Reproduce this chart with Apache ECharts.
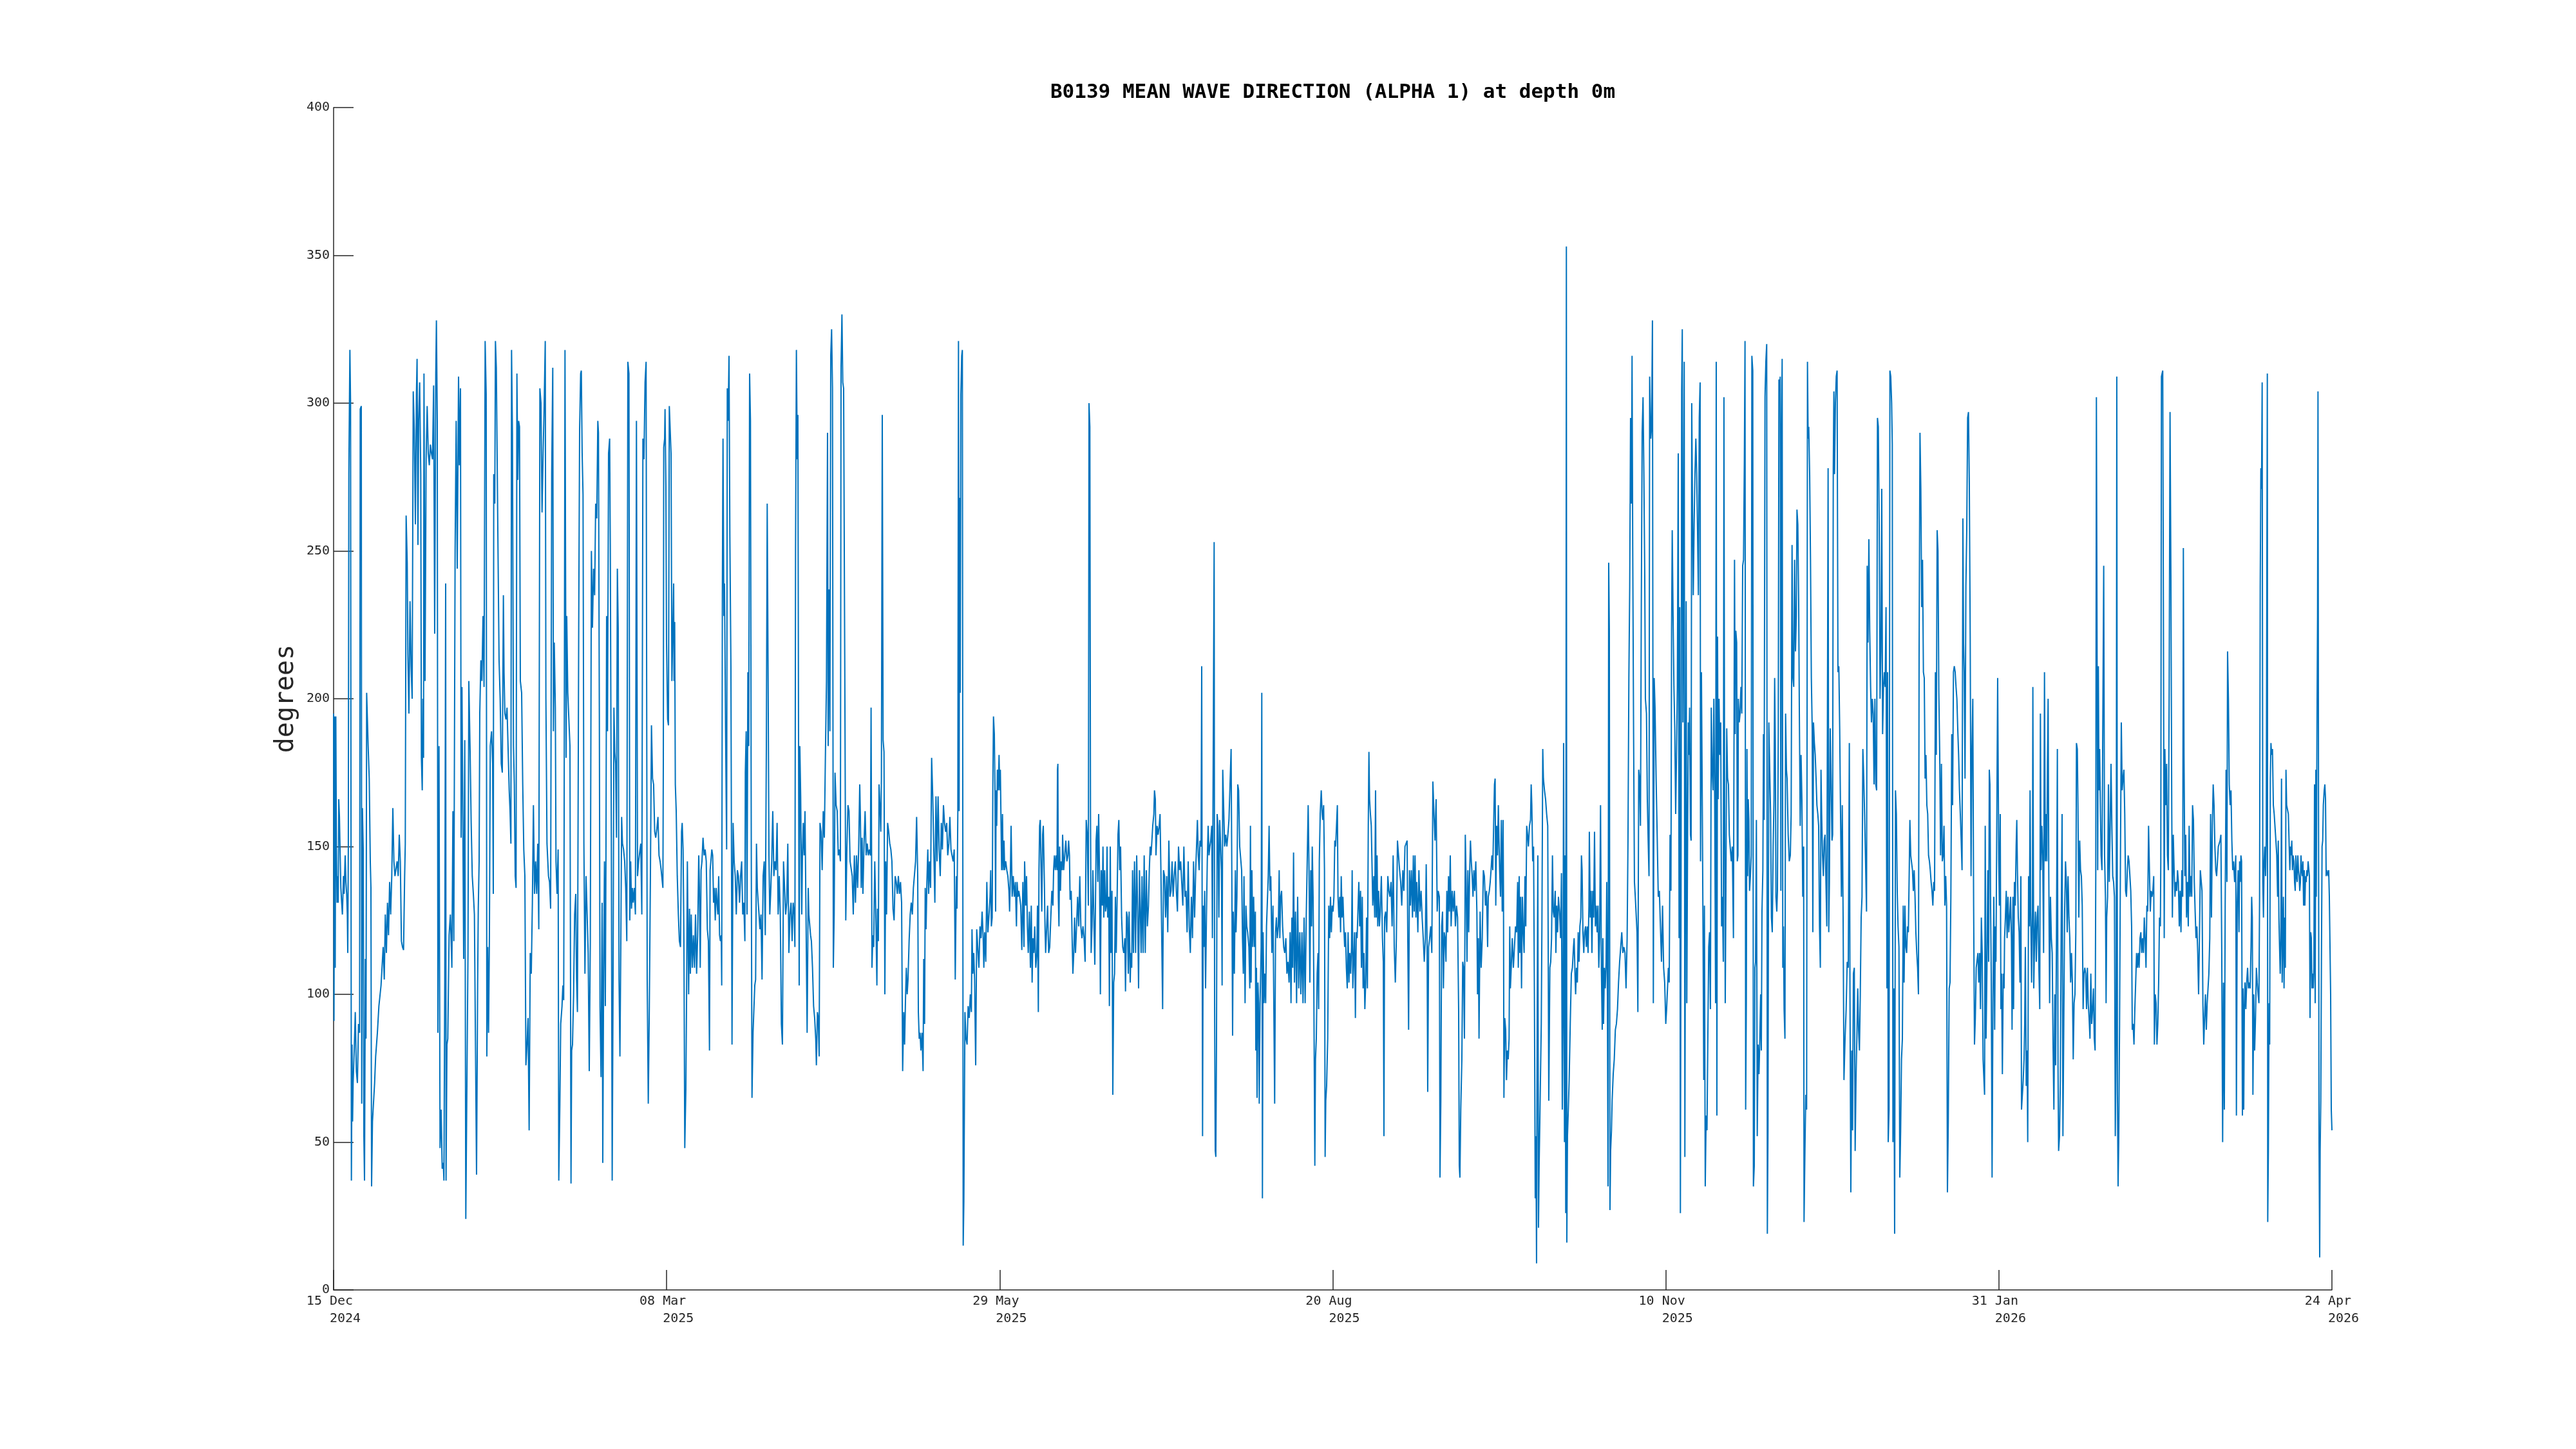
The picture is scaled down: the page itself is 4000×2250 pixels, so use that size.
<!DOCTYPE html>
<html>
<head>
<meta charset="utf-8">
<script src="https://cdn.jsdelivr.net/npm/echarts@6/dist/echarts.min.js"></script>
<style>html,body{margin:0;padding:0;background:#fff}#c{width:4000px;height:2250px}</style>
</head>
<body>
<div id="c"></div>
<script>
// x = days since 15 Dec 2024 00:00, y = mean wave direction (degrees)
const titleText = "B0139 MEAN WAVE DIRECTION (ALPHA 1) at depth 0m";
const yName = "degrees";
const tickLabels = ["15 Dec \n   2024","08 Mar \n   2025","29 May \n   2025","20 Aug \n   2025","10 Nov \n   2025","31 Jan \n   2026","24 Apr \n   2026"];

const seg1 = [[0,195],[0.1,91],[0.25,194],[0.4,109],[0.55,194],[0.7,149],[0.85,131],[1.0,140],[1.15,131],[1.28,166],[1.45,160],[1.6,149],[1.8,136],[2.0,131],[2.18,127],[2.45,140],[2.6,134],[2.87,147],[3.05,138],[3.24,134],[3.4,127],[3.51,114],[3.65,150],[3.78,276],[4.04,318],[4.2,300],[4.41,37],[4.57,83],[4.7,57],[4.84,70],[5.11,81],[5.37,94],[5.64,74],[5.9,70],[6.17,90],[6.44,87],[6.6,298],[6.86,299],[6.97,63],[7.13,163],[7.34,149],[7.5,52],[7.66,37],[7.87,112],[8.03,85],[8.19,202],[8.56,184],[8.83,173],[9.09,145],[9.25,136],[9.41,35],[9.63,57],[9.9,57],[10.16,70],[10.42,79],[10.85,87],[11.22,96],[11.75,103],[12.28,116],[12.55,105],[12.81,127],[13.08,114],[13.35,131],[13.61,120],[13.88,138],[14.14,127],[14.41,140],[14.68,163],[14.94,145],[15.2,140],[15.47,140],[15.74,145],[16.0,140],[16.27,154],[16.53,145],[16.8,118],[17.07,116],[17.33,115],[17.6,140],[17.76,151],[17.97,262],[18.24,246],[18.4,215],[18.66,195],[18.93,233],[19.2,211],[19.46,200],[19.73,304],[19.99,291],[20.26,259],[20.52,303],[20.68,315],[20.9,252],[21.06,294],[21.32,307],[21.59,276],[21.75,180],[21.96,169],[22.12,200],[22.28,180],[22.39,310],[22.65,206],[22.92,281],[23.18,299],[23.45,283],[23.71,279],[23.98,286],[24.25,283],[24.51,281],[24.78,306],[25.04,222],[25.31,310],[25.47,328],[25.68,294],[25.84,87],[26.11,184],[26.37,48],[26.64,61],[26.9,41],[27.17,43],[27.33,37],[27.54,105],[27.76,239],[27.86,37],[28.08,83],[28.29,85],[28.61,120],[28.93,127],[29.3,109],[29.56,162],[29.78,118],[30.1,250],[30.36,294],[30.63,244],[30.95,309],[31.16,279],[31.43,305],[31.59,153],[31.8,204],[32.01,160],[32.22,112],[32.49,186],[32.75,24],[33.29,114],[33.5,206],[33.82,182],[34.08,158],[34.35,140],[34.62,134],[34.88,127],[35.15,127],[35.41,39],[35.68,103],[35.84,129],[36.05,145],[36.21,195],[36.48,213],[36.74,206],[37.01,228],[37.27,204],[37.54,321],[37.8,303],[37.96,79],[38.18,116],[38.39,87],[38.6,120],[38.81,184],[39.13,189],[39.4,178],[39.56,134],[39.67,276],[39.93,266],[40.09,321],[40.31,312],[40.52,281],[40.73,250],[40.99,213],[41.26,200],[41.53,178],[41.79,175],[42.06,235],[42.22,209],[42.43,195],[42.7,193],[42.96,197],[43.18,197],[43.5,169],[43.71,162],[43.92,151],[44.08,318],[44.3,290],[44.56,184],[44.77,171],[44.99,140],[45.2,136],[45.41,310],[45.63,274],[45.84,294],[46.05,292],[46.26,206],[46.58,202],[46.85,171],[47.11,149],[47.38,140],[47.64,76],[47.91,83],[48.17,92],[48.44,54],[48.71,114],[48.97,107],[49.24,131],[49.5,164],[49.77,134],[50.04,145],[50.3,134],[50.57,151],[50.83,122],[51.1,305],[51.37,300],[51.63,263],[51.9,283],[52.16,299],[52.43,321],[52.59,200],[52.86,151],[53.23,140],[53.49,138],[53.76,129],[54.03,276],[54.29,312],[54.45,189],[54.66,219],[54.93,197],[55.09,145],[55.35,134],[55.62,149],[55.78,37],[56.05,63],[56.26,90],[56.58,96],[56.79,103],[57.0,98],[57.11,160],[57.32,318],[57.59,180],[57.75,228],[58.01,202],[58.28,193],[58.55,184],[58.81,36],[58.97,81],[59.18,83],[59.45,100],[59.71,127],[59.98,134],[60.19,105],[60.4,94],[60.72,224],[60.94,291],[61.2,310],[61.36,311],[61.57,283],[61.79,269],[62.0,151],[62.26,107],[62.53,140],[62.8,127],[63.06,114],[63.33,74],[63.59,118],[63.86,250],[64.12,224],[64.39,244],[64.66,235],[64.92,266],[65.19,261],[65.45,294],[65.61,290],[65.83,195],[65.99,96],[66.25,72],[66.52,131],[66.68,43],[66.89,107],[67.1,145],[67.31,96],[67.47,147],[67.63,228],[67.85,189],[68.11,283],[68.38,288],[68.54,252],[68.8,153],[69.01,37],[69.23,105],[69.44,197],[69.65,182],[69.86,178],[70.08,153],[70.29,244],[70.5,224],[70.71,105],[70.93,79],[71.14,116],[71.35,160],[71.56,151],[71.83,149],[72.1,145],[72.36,136],[72.63,118],[72.89,314],[73.16,310],[73.37,125],[73.59,145],[73.8,129],[74.01,136],[74.22,131],[74.49,136],[74.76,127],[75.02,294],[75.29,140],[75.55,145],[75.82,145],[76.09,151],[76.35,127],[76.62,288],[76.88,281],[77.15,307],[77.41,314],[77.68,105],[77.95,63],[78.21,96],[78.48,140],[78.74,191],[79.01,173],[79.27,171],[79.54,155],[79.8,153]];

const seg2 = [[80.08,156],[80.35,160],[80.61,147],[80.88,145],[81.14,142],[81.57,136],[81.68,180],[81.78,285],[82.0,288],[82.1,298],[82.31,272],[82.47,219],[82.74,193],[82.95,191],[83.16,299],[83.38,299],[83.59,283],[83.8,206],[84.01,206],[84.23,239],[84.33,206],[84.49,226],[84.65,171],[84.87,162],[85.13,140],[85.4,127],[85.66,118],[85.93,116],[86.19,155],[86.35,158],[86.57,149],[86.78,118],[86.99,48],[87.26,68],[87.42,96],[87.63,145],[87.79,145],[87.95,100],[88.16,129],[88.38,107],[88.59,127],[88.85,109],[89.12,120],[89.39,109],[89.65,127],[89.92,107],[90.18,120],[90.45,147],[90.61,136],[90.82,109],[91.03,142],[91.25,145],[91.51,153],[91.78,147],[92.04,149],[92.31,145],[92.58,122],[92.84,118],[93.11,81],[93.27,142],[93.48,142],[93.69,149],[93.9,147],[94.12,131],[94.33,136],[94.54,125],[94.76,136],[94.97,131],[95.18,127],[95.39,140],[95.61,120],[95.82,118],[96.03,120],[96.14,103],[96.3,235],[96.46,288],[96.67,228],[96.83,239],[97.1,189],[97.36,149],[97.52,305],[97.73,294],[97.95,316],[98.16,255],[98.42,211],[98.58,140],[98.69,83],[98.96,158],[99.22,145],[99.49,140],[99.75,127],[100.02,142],[100.28,140],[100.55,131],[100.82,140],[101.08,145],[101.35,127],[101.61,131],[101.88,118],[101.99,175],[102.2,189],[102.41,127],[102.62,209],[102.84,184],[103.05,310],[103.26,294],[103.48,140],[103.64,65],[103.9,87],[104.11,87],[104.33,103],[104.54,105],[104.75,151],[104.96,136],[105.18,131],[105.39,127],[105.6,122],[105.87,127],[106.13,105],[106.4,140],[106.67,145],[106.93,120],[107.2,184],[107.41,266],[107.62,211],[107.84,147],[108.05,127],[108.26,134],[108.53,145],[108.79,162],[109.06,140],[109.32,145],[109.59,142],[109.86,158],[110.12,127],[110.39,140],[110.65,127],[110.92,90],[111.18,83],[111.45,145],[111.72,145],[111.98,127],[112.25,131],[112.51,151],[112.78,114],[113.04,127],[113.31,131],[113.58,118],[113.84,131],[114.11,127],[114.27,116],[114.43,250],[114.64,318],[114.85,281],[115.01,296],[115.17,189],[115.33,103],[115.49,184],[115.7,167],[115.97,127],[116.13,147],[116.34,158],[116.55,147],[116.77,162],[117.03,162],[117.3,87],[117.57,136],[117.73,127],[117.94,127],[118.15,120],[118.36,118],[118.63,109],[118.9,96],[119.16,92],[119.43,85],[119.59,76],[119.85,94],[120.07,92],[120.28,79],[120.49,158],[120.76,155],[121.02,142],[121.29,162],[121.56,153],[121.82,180],[122.09,206],[122.35,290],[122.51,184],[122.73,237],[122.94,189],[123.15,316],[123.36,325],[123.58,305],[123.79,109],[124.0,127],[124.21,175],[124.48,164],[124.75,162],[125.01,147],[125.28,149],[125.54,145],[125.7,312],[125.92,330],[126.13,307],[126.34,305],[126.61,215],[126.87,125],[127.14,149],[127.41,164],[127.67,162],[127.94,145],[128.2,145],[128.47,140],[128.73,127],[129.0,147],[129.27,131],[129.53,147],[129.8,136],[130.06,149],[130.33,171],[130.49,160],[130.7,136],[130.91,153],[131.12,134],[131.39,151],[131.66,162],[131.92,147],[132.19,151],[132.45,147],[132.72,149],[132.98,147],[133.14,197],[133.36,109],[133.57,120],[133.78,116],[134.05,145],[134.31,127],[134.58,103],[134.74,129],[134.95,118],[135.11,171],[135.38,162],[135.54,155],[135.7,173],[135.91,296],[136.12,186],[136.34,182],[136.55,100],[136.76,145],[136.97,127],[137.24,158],[137.51,155],[137.77,151],[138.04,149],[138.3,145],[138.57,129],[138.84,125],[139.1,140],[139.37,138],[139.64,134],[139.9,140],[140.17,134],[140.43,138],[140.7,131],[140.96,74],[141.23,94],[141.44,83],[141.66,98],[141.87,109],[142.08,100],[142.29,105],[142.56,118],[142.83,127],[143.09,131],[143.36,127],[143.62,136],[143.89,136],[144.16,145],[144.42,160],[144.69,140],[144.85,94],[145.06,85],[145.27,87],[145.48,81],[145.75,87],[146.02,74],[146.18,112],[146.39,90],[146.55,136],[146.76,122],[146.97,138],[147.19,149],[147.4,134],[147.61,145],[147.88,136],[148.14,180],[148.41,167],[148.68,167],[148.94,131],[149.21,167],[149.47,145],[149.74,167],[150.0,149],[150.27,140],[150.54,158],[150.8,149],[151.07,164],[151.33,158],[151.6,155],[151.87,158],[152.13,147],[152.4,151],[152.66,160],[152.93,149],[153.19,147],[153.46,145],[153.73,149],[153.99,105],[154.26,140],[154.42,129],[154.63,162],[154.79,321],[154.95,162],[155.06,268],[155.22,202],[155.38,303],[155.59,316],[155.75,318],[155.96,15],[156.12,30],[156.39,94],[156.65,85],[156.92,83],[157.18,96],[157.45,92],[157.72,100],[157.98,94],[158.14,122],[158.35,107],[158.57,114],[158.78,105],[159.05,76],[159.31,122],[159.58,122]];

const seg3 = [[159.85,109],[160.11,123],[160.38,119],[160.64,128],[160.91,119],[161.07,109],[161.28,121],[161.55,111],[161.81,138],[162.08,121],[162.4,128],[162.61,133],[162.77,142],[162.93,123],[163.14,126],[163.3,169],[163.46,194],[163.67,188],[163.83,169],[163.99,128],[164.1,169],[164.26,157],[164.42,176],[164.63,169],[164.84,181],[165.0,169],[165.16,176],[165.32,159],[165.48,142],[165.69,161],[165.85,142],[166.07,152],[166.23,142],[166.49,145],[166.76,142],[167.02,140],[167.29,135],[167.45,128],[167.66,142],[167.82,157],[168.09,133],[168.35,140],[168.62,133],[168.88,138],[169.15,123],[169.31,138],[169.52,133],[169.73,135],[169.95,133],[170.21,130],[170.48,115],[170.74,138],[171.01,116],[171.17,145],[171.44,130],[171.65,140],[171.86,123],[172.07,114],[172.34,128],[172.61,109],[172.82,130],[173.03,104],[173.24,119],[173.46,114],[173.67,123],[173.94,109],[174.2,114],[174.36,130],[174.57,94],[174.73,142],[174.89,157],[175.05,159],[175.26,142],[175.42,128],[175.64,154],[175.8,157],[176.06,138],[176.22,123],[176.38,114],[176.59,121],[176.86,130],[177.13,114],[177.39,116],[177.66,126],[177.92,135],[178.19,130],[178.35,142],[178.56,147],[178.77,142],[178.99,147],[179.2,142],[179.31,176],[179.41,178],[179.52,133],[179.68,123],[179.84,150],[180.05,135],[180.21,145],[180.48,142],[180.58,154],[180.85,142],[181.11,147],[181.38,152],[181.64,145],[181.91,147],[182.07,152],[182.28,147],[182.44,132],[182.71,135],[182.97,117],[183.13,107],[183.35,114],[183.56,126],[183.77,114],[184.04,123],[184.3,133],[184.57,123],[184.84,140],[185.1,123],[185.37,119],[185.63,123],[185.9,119],[186.16,111],[186.43,159],[186.7,154],[186.96,130],[187.12,300],[187.33,292],[187.49,161],[187.65,114],[187.87,123],[188.08,142],[188.29,142],[188.56,110],[188.72,130],[188.88,152],[189.09,157],[189.3,138],[189.51,161],[189.73,140],[189.94,100],[190.15,142],[190.42,130],[190.58,150],[190.79,126],[191.0,142],[191.22,128],[191.43,130],[191.59,150],[191.75,126],[192.01,133],[192.17,96],[192.39,150],[192.55,114],[192.81,135],[193.02,66],[193.24,104],[193.45,107],[193.66,133],[193.87,114],[194.09,133],[194.3,154],[194.51,159],[194.73,142],[194.94,150],[195.2,126],[195.47,116],[195.73,114],[196.0,119],[196.16,101],[196.43,128],[196.64,126],[196.85,107],[197.06,128],[197.33,104],[197.49,114],[197.7,109],[197.91,142],[198.13,114],[198.39,145],[198.66,114],[198.93,147],[199.19,126],[199.4,102],[199.62,142],[199.83,128],[200.04,114],[200.25,140],[200.52,114],[200.79,147],[201.05,114],[201.32,142],[201.58,123],[201.85,130],[202.06,142],[202.27,150],[202.49,147],[202.7,152],[202.91,157],[203.18,161],[203.34,169],[203.55,166],[203.71,147],[203.98,157],[204.24,154],[204.51,157],[204.72,161],[204.93,142],[205.15,142],[205.36,95],[205.57,142],[205.84,140],[206.1,126],[206.37,140],[206.63,121],[206.9,152],[207.17,133],[207.43,135],[207.7,145],[207.96,133],[208.23,140],[208.5,145],[208.76,135],[209.03,128],[209.29,150],[209.56,142],[209.83,145],[210.09,138],[210.36,130],[210.62,150],[210.89,133],[211.16,135],[211.42,121],[211.69,145],[211.95,123],[212.22,114],[212.48,133],[212.75,119],[213.02,145],[213.28,126],[213.55,142],[213.81,152],[213.97,159],[214.19,147],[214.4,142],[214.61,152],[214.88,150],[215.04,211],[215.25,52],[215.41,130],[215.57,116],[215.78,135],[215.99,102],[216.21,126],[216.42,145],[216.63,157],[216.84,147],[217.06,150],[217.27,152],[217.53,157],[217.69,119],[217.91,119],[218.12,253],[218.23,97],[218.39,47],[218.54,45],[218.7,83],[218.86,161],[219.08,157],[219.29,126],[219.5,159],[219.71,159],[219.93,142],[220.09,103],[220.25,176],[220.46,164],[220.72,150],[220.99,154],[221.26,150],[221.52,154],[221.79,159],[222.05,159]];

const seg4 = [[222.32,183],[222.48,145],[222.69,86],[222.85,128],[223.12,107],[223.38,142],[223.54,121],[223.76,133],[223.97,171],[224.18,169],[224.45,150],[224.71,150],[224.93,142],[225.14,119],[225.35,107],[225.51,140],[225.78,97],[225.99,130],[226.2,123],[226.42,121],[226.73,116],[226.95,102],[227.11,157],[227.27,104],[227.48,142],[227.69,116],[227.9,133],[228.12,116],[228.33,128],[228.44,81],[228.6,109],[228.75,65],[228.97,104],[229.13,97],[229.29,63],[229.5,97],[229.76,116],[229.92,202],[230.08,31],[230.24,121],[230.46,97],[230.67,107],[230.88,97],[231.09,123],[231.31,123],[231.52,140],[231.73,157],[231.94,135],[232.16,140],[232.42,114],[232.69,130],[232.9,130],[233.11,63],[233.33,121],[233.54,126],[233.75,119],[234.02,123],[234.23,142],[234.39,119],[234.6,133],[234.82,135],[235.08,123],[235.35,116],[235.61,114],[235.88,119],[236.15,107],[236.41,111],[236.68,104],[236.94,121],[237.16,97],[237.37,126],[237.58,109],[237.79,148],[238.01,104],[238.27,128],[238.54,97],[238.8,133],[239.07,102],[239.34,121],[239.6,100],[239.87,121],[240.13,97],[240.4,126],[240.66,97],[240.93,126],[241.2,126],[241.41,164],[241.62,142],[241.83,104],[242.05,142],[242.26,123],[242.42,150],[242.63,133],[242.79,107],[243.06,42],[243.22,78],[243.43,85],[243.64,107],[243.85,114],[244.01,95],[244.17,145],[244.39,161],[244.65,169],[244.87,161],[245.02,159],[245.24,164],[245.45,142],[245.61,45],[245.77,64],[245.98,69],[246.25,85],[246.51,130],[246.73,119],[246.94,133],[247.15,121],[247.36,130],[247.58,128],[247.79,133],[248.0,152],[248.21,150],[248.43,157],[248.64,164],[248.8,133],[249.01,126],[249.23,133],[249.44,121],[249.6,140],[249.81,126],[250.02,133],[250.24,123],[250.45,116],[250.66,121],[250.87,109],[251.09,102],[251.3,121],[251.51,104],[251.72,114],[251.94,107],[252.15,116],[252.31,142],[252.47,102],[252.68,111],[252.89,121],[253.11,92],[253.32,121],[253.53,119],[253.74,119],[253.96,138],[254.17,123],[254.38,135],[254.6,109],[254.81,133],[255.02,102],[255.23,114],[255.45,95],[255.66,104],[255.87,126],[256.08,102],[256.3,157],[256.46,182],[256.62,166],[256.83,161],[257.04,157],[257.25,142],[257.41,130],[257.68,140],[257.89,126],[258.1,169],[258.26,126],[258.48,147],[258.64,123],[258.85,135],[259.06,123],[259.27,128],[259.54,140],[259.81,119],[260.02,111],[260.18,52],[260.34,126],[260.6,128],[260.87,121],[261.14,140],[261.4,135],[261.67,133],[261.93,138],[262.2,123],[262.46,147],[262.73,116],[263.0,104],[263.26,119],[263.53,152],[263.79,147],[264.06,142],[264.33,138],[264.59,130],[264.86,142],[265.12,135],[265.39,150],[265.65,150],[265.92,152],[266.08,119],[266.29,88],[266.51,142],[266.72,130],[266.98,142],[267.25,126],[267.46,147],[267.67,128],[267.89,147],[268.1,126],[268.31,138],[268.58,121],[268.84,142],[269.11,128],[269.38,135],[269.64,126],[269.91,119],[270.17,111],[270.44,119],[270.65,144],[270.87,116],[271.02,67],[271.24,116],[271.5,119],[271.77,123],[272.04,114],[272.3,172],[272.57,161],[272.83,152],[273.1,166],[273.37,128],[273.63,135],[273.9,133],[274.06,38],[274.27,64],[274.48,123],[274.69,128],[274.91,102],[275.12,121],[275.33,119],[275.54,111],[275.76,135],[275.97,121],[276.18,140],[276.4,128],[276.61,147],[276.82,123],[277.09,135],[277.35,128],[277.62,135],[277.88,123],[278.15,130],[278.42,126],[278.68,95],[278.84,42],[279.0,38],[279.21,61],[279.48,78],[279.69,111],[279.9,109],[280.12,85],[280.33,154],[280.54,138],[280.75,111],[280.97,142],[281.18,121],[281.39,140],[281.61,152],[281.82,145],[282.03,140],[282.24,133],[282.46,142],[282.67,135],[282.93,145],[283.2,128],[283.36,100],[283.57,119],[283.73,85],[284.0,128],[284.26,109]];

const seg5 = [[284.53,119],[284.8,142],[285.06,140],[285.33,130],[285.59,135],[285.86,116],[286.02,133],[286.29,135],[286.5,138],[286.71,142],[286.92,147],[287.14,142],[287.35,157],[287.56,171],[287.72,173],[287.88,130],[288.09,157],[288.31,147],[288.52,164],[288.68,152],[288.84,142],[289.05,133],[289.26,159],[289.48,128],[289.69,159],[289.79,135],[289.9,65],[290.11,92],[290.33,88],[290.54,71],[290.75,81],[290.96,78],[291.18,85],[291.34,123],[291.5,102],[291.71,109],[291.97,119],[292.24,109],[292.51,116],[292.77,123],[293.04,121],[293.3,138],[293.46,109],[293.68,140],[293.84,114],[294.05,133],[294.26,102],[294.47,133],[294.69,121],[294.9,114],[295.11,140],[295.32,123],[295.54,157],[295.75,154],[295.96,150],[296.23,157],[296.49,159],[296.65,171],[296.81,164],[297.03,145],[297.24,150],[297.45,100],[297.66,31],[297.82,52],[297.98,9],[298.14,95],[298.3,147],[298.46,21],[298.62,42],[298.89,66],[299.15,90],[299.31,123],[299.52,183],[299.68,173],[299.95,169],[300.22,166],[300.48,161],[300.75,157],[301.01,64],[301.28,109],[301.49,111],[301.7,119],[301.92,147],[302.13,128],[302.34,126],[302.61,135],[302.77,114],[302.98,130],[303.19,121],[303.41,133],[303.67,128],[303.94,119],[304.15,141],[304.36,61],[304.52,90],[304.68,185],[304.9,50],[305.05,147],[305.21,26],[305.37,353],[305.48,16],[305.64,52],[305.85,61],[306.06,71],[306.33,90],[306.6,107],[306.86,109],[307.13,116],[307.29,119],[307.5,107],[307.66,100],[307.87,109],[308.09,104],[308.3,121],[308.51,111],[308.72,123],[308.94,126],[309.1,147],[309.26,142],[309.47,121],[309.68,114],[309.89,121],[310.11,123],[310.32,116],[310.53,123],[310.74,114],[310.96,130],[311.06,155],[311.28,126],[311.49,135],[311.7,114],[311.91,135],[312.13,126],[312.34,155],[312.55,123],[312.76,130],[312.98,121],[313.19,130],[313.4,109],[313.61,119],[313.83,164],[314.04,109],[314.25,88],[314.41,119],[314.57,90],[314.78,109],[315.0,102],[315.21,111],[315.37,138],[315.53,100],[315.69,35],[315.85,246],[316.01,223],[316.17,27],[316.33,47],[316.54,54],[316.7,64],[316.97,73],[317.23,78],[317.5,88],[317.76,90],[318.03,95],[318.29,104],[318.56,111],[318.83,116],[319.09,121],[319.36,114],[319.62,116],[319.89,114],[320.15,102],[320.42,119],[320.63,152],[320.85,207],[321.06,238],[321.27,295],[321.48,266],[321.64,316],[321.8,252],[322.02,188],[322.23,138],[322.44,133],[322.65,133],[322.87,121],[323.08,94],[323.29,176],[323.5,173],[323.72,157],[323.93,231],[324.14,290],[324.36,302],[324.57,276],[324.78,242],[324.94,200],[325.21,195],[325.42,166],[325.63,152],[325.84,140],[326.0,309],[326.27,288],[326.48,292],[326.69,328],[326.91,97],[327.12,207],[327.33,197],[327.6,173],[327.86,154],[328.13,133],[328.4,135],[328.66,135],[328.93,111],[329.19,130],[329.46,109],[329.72,104],[329.99,90],[330.2,95],[330.42,102],[330.63,109],[330.84,104],[331.05,154],[331.27,135],[331.43,223],[331.59,257],[331.8,228],[332.01,204],[332.22,190],[332.44,161],[332.65,181],[332.86,204],[333.08,283],[333.29,119],[333.45,231],[333.61,26],[333.77,133],[333.93,304],[334.08,325],[334.24,192],[334.4,238],[334.56,314],[334.72,45],[334.88,150],[335.04,233],[335.2,97],[335.41,157],[335.57,192],[335.73,181],[335.89,197],[336.11,154],[336.27,152],[336.42,300],[336.58,269],[336.8,235],[337.01,259],[337.22,276],[337.44,288],[337.65,276],[337.86,257],[338.07,235],[338.29,295],[338.5,307],[338.6,145],[338.82,209],[339.03,166],[339.24,116],[339.4,71],[339.56,130],[339.77,35],[339.99,59],[340.2,54],[340.41,85],[340.63,116],[340.84,121],[341.05,95],[341.26,197],[341.48,176],[341.69,169],[341.9,200],[342.11,166],[342.33,97],[342.49,314],[342.65,59],[342.81,221],[342.96,166],[343.18,200],[343.39,181],[343.6,192],[343.82,123],[344.03,133],[344.24,111],[344.4,302],[344.56,164],[344.72,97],[344.88,133],[345.09,190],[345.3,173],[345.52,171],[345.73,154],[345.94,154],[346.21,145],[346.47,150]];

const seg6 = [[346.75,119],[347.02,247],[347.18,188],[347.34,223],[347.55,219],[347.71,145],[347.87,147],[347.97,200],[348.19,192],[348.4,195],[348.61,204],[348.82,195],[349.04,245],[349.25,247],[349.46,281],[349.62,321],[349.78,61],[349.94,97],[350.1,183],[350.26,140],[350.42,166],[350.58,159],[350.74,135],[350.95,140],[351.16,147],[351.32,316],[351.54,311],[351.7,35],[351.91,42],[352.07,109],[352.23,111],[352.44,159],[352.65,52],[352.87,83],[353.08,73],[353.29,85],[353.5,100],[353.66,81],[353.82,128],[354.04,142],[354.19,188],[354.35,159],[354.57,302],[354.78,314],[354.99,320],[355.15,19],[355.31,54],[355.52,192],[355.74,176],[355.95,161],[356.16,126],[356.37,121],[356.59,150],[356.8,166],[356.96,207],[357.12,185],[357.28,133],[357.49,128],[357.65,135],[357.86,190],[358.02,308],[358.18,304],[358.34,309],[358.5,135],[358.66,290],[358.82,315],[358.98,109],[359.14,123],[359.3,95],[359.51,85],[359.67,195],[359.88,176],[360.04,173],[360.31,154],[360.58,145],[360.84,147],[361.05,161],[361.27,252],[361.48,207],[361.69,204],[361.9,247],[362.12,216],[362.33,228],[362.49,264],[362.7,259],[362.91,233],[363.07,197],[363.29,157],[363.5,181],[363.71,166],[363.92,133],[364.14,150],[364.24,23],[364.46,47],[364.67,66],[364.88,61],[365.09,314],[365.25,288],[365.41,292],[365.63,276],[365.84,247],[366.05,207],[366.26,190],[366.42,121],[366.58,192],[366.8,185],[367.01,181],[367.22,173],[367.43,164],[367.65,161],[367.86,157],[368.07,123],[368.28,109],[368.44,176],[368.6,161],[368.82,147],[369.03,140],[369.24,152],[369.45,154],[369.67,138],[369.88,123],[370.04,197],[370.2,278],[370.36,121],[370.52,138],[370.73,190],[370.94,173],[371.16,152],[371.32,154],[371.48,278],[371.63,304],[371.79,276],[372.01,300],[372.22,309],[372.43,311],[372.64,209],[372.86,211],[373.07,190],[373.28,161],[373.5,133],[373.71,164],[373.92,126],[374.13,71],[374.4,85],[374.67,95],[374.93,111],[375.2,109],[375.46,185],[375.62,100],[375.83,33],[376.05,81],[376.26,54],[376.47,107],[376.69,109],[376.9,47],[377.11,71],[377.32,85],[377.54,102],[377.75,88],[377.96,81],[378.17,100],[378.39,126],[378.6,133],[378.81,183],[379.03,173],[379.24,161],[379.45,147],[379.72,128],[379.88,245],[380.09,219],[380.3,254],[380.51,223],[380.73,204],[380.94,192],[381.15,200],[381.37,195],[381.58,171],[381.79,200],[382.0,171],[382.22,169],[382.43,295],[382.64,292],[382.85,259],[383.07,200],[383.28,216],[383.49,271],[383.7,188],[383.92,204],[384.13,209],[384.34,204],[384.55,231],[384.77,102],[384.93,209],[385.09,50],[385.3,61],[385.51,311],[385.72,309],[385.94,300],[386.1,286],[386.26,50],[386.47,102],[386.68,19],[386.89,169],[387.11,161],[387.32,135],[387.53,123],[387.75,116],[387.96,38],[388.17,54],[388.38,78],[388.6,85],[388.81,130],[389.02,104],[389.23,130],[389.45,116],[389.66,114],[389.87,123],[390.08,121],[390.3,142],[390.46,159],[390.67,147],[390.88,147],[391.1,142],[391.31,135],[391.52,142],[391.73,133],[391.94,121],[392.16,114],[392.37,109],[392.58,100],[392.74,214],[392.96,290],[393.17,271],[393.38,231],[393.59,247],[393.81,209],[394.02,207],[394.23,173],[394.44,181],[394.66,164],[394.87,161],[395.08,147],[395.3,145],[395.51,142],[395.72,138],[395.93,135],[396.15,130],[396.36,138],[396.57,135],[396.78,209],[397.0,181],[397.21,257],[397.42,250],[397.63,202],[397.85,181],[398.06,147],[398.27,178],[398.49,145],[398.7,147],[398.91,157],[399.12,130],[399.34,140],[399.55,130],[399.76,33],[399.97,57],[400.19,102],[400.4,104],[400.61,133],[400.83,188],[401.04,164],[401.25,209],[401.46,211],[401.68,209],[401.89,204],[402.1,200],[402.31,190],[402.53,181],[402.74,169],[402.95,161],[403.17,152],[403.38,142],[403.59,261],[403.75,219],[403.91,209],[404.12,173],[404.33,238],[404.55,257],[404.76,295],[404.97,297],[405.18,273],[405.4,221],[405.61,140],[405.82,183],[406.04,200],[406.25,130],[406.46,83],[406.67,92],[406.89,109],[407.1,109],[407.31,114],[407.52,104],[407.74,114],[407.95,95],[408.16,126],[408.37,114],[408.59,78]];

const seg7 = [[408.96,66],[409.12,157],[409.33,85],[409.55,109],[409.76,142],[409.97,111],[410.13,176],[410.29,171],[410.45,130],[410.61,107],[410.82,38],[411.03,97],[411.25,133],[411.46,88],[411.62,123],[411.78,111],[411.99,159],[412.2,207],[412.31,181],[412.47,145],[412.63,130],[412.84,161],[413.0,95],[413.16,107],[413.37,73],[413.59,107],[413.8,102],[413.91,119],[414.12,126],[414.33,135],[414.54,119],[414.76,133],[414.97,121],[415.18,126],[415.39,133],[415.61,119],[415.77,88],[415.98,133],[416.14,95],[416.35,138],[416.56,130],[416.78,150],[416.94,159],[417.1,142],[417.31,126],[417.52,121],[417.73,104],[417.95,140],[418.11,61],[418.32,61],[418.53,71],[418.74,78],[418.9,90],[419.06,116],[419.28,69],[419.49,81],[419.65,50],[419.86,140],[420.07,123],[420.23,169],[420.39,128],[420.61,104],[420.82,128],[420.92,204],[421.14,102],[421.35,119],[421.56,128],[421.77,111],[421.99,126],[422.2,130],[422.41,109],[422.63,95],[422.79,195],[422.94,142],[423.16,157],[423.37,147],[423.58,114],[423.8,209],[424.01,145],[424.22,161],[424.38,145],[424.54,178],[424.7,200],[424.86,142],[425.07,97],[425.28,133],[425.5,119],[425.71,114],[425.92,83],[426.13,61],[426.35,100],[426.56,76],[426.77,119],[426.99,183],[427.15,76],[427.3,47],[427.52,52],[427.73,71],[427.94,123],[428.16,161],[428.37,52],[428.58,90],[428.79,128],[429.01,145],[429.22,138],[429.43,121],[429.64,140],[429.86,126],[430.07,119],[430.28,104],[430.49,114],[430.71,104],[430.92,78],[431.13,97],[431.35,100],[431.56,121],[431.72,185],[431.93,183],[432.09,164],[432.3,126],[432.52,152],[432.73,142],[432.94,140],[433.15,130],[433.37,95],[433.58,107],[433.79,109],[434.0,107],[434.22,95],[434.43,109],[434.64,97],[434.85,92],[435.07,85],[435.28,107],[435.49,90],[435.71,95],[435.92,102],[436.13,85],[436.34,81],[436.5,140],[436.66,302],[436.82,302],[436.98,142],[437.14,211],[437.3,169],[437.46,183],[437.67,161],[437.83,147],[438.04,142],[438.26,142],[438.47,245],[438.68,147],[438.9,133],[439.06,97],[439.21,126],[439.43,133],[439.64,171],[439.85,138],[440.07,157],[440.28,178],[440.49,157],[440.7,140],[440.92,138],[441.13,133],[441.34,52],[441.55,85],[441.71,309],[441.87,66],[442.03,35],[442.19,50],[442.4,90],[442.62,147],[442.83,192],[443.04,169],[443.26,173],[443.47,176],[443.68,161],[443.89,135],[444.11,133],[444.32,142],[444.53,147],[444.74,145],[444.96,140],[445.17,135],[445.38,123],[445.54,88],[445.75,90],[445.97,83],[446.18,95],[446.39,104],[446.61,114],[446.82,109],[447.03,114],[447.24,109],[447.46,119],[447.67,121],[447.88,114],[448.09,119],[448.31,114],[448.52,126],[448.73,119],[448.95,109],[449.16,130],[449.37,128],[449.58,157],[449.8,142],[450.01,128],[450.22,135],[450.43,133],[450.65,135],[450.86,140],[451.02,83],[451.23,100],[451.44,97],[451.66,83],[451.87,90],[452.08,104],[452.29,126],[452.51,123],[452.61,145],[452.77,309],[452.93,309],[453.09,311],[453.25,233],[453.46,119],[453.62,183],[453.84,164],[454.05,178],[454.26,147],[454.47,142],[454.69,204],[454.9,297],[455.11,242],[455.33,161],[455.48,126],[455.7,154],[455.91,142],[456.12,133],[456.34,138],[456.55,135],[456.76,142],[456.97,138],[457.19,123],[457.4,135],[457.61,121],[457.82,142],[458.04,133],[458.2,251],[458.36,181],[458.57,140],[458.78,154],[458.99,126],[459.21,138],[459.42,123],[459.63,157],[459.84,133],[460.06,140],[460.27,133],[460.48,164],[460.7,159],[460.91,138],[461.12,128],[461.33,119],[461.55,123],[461.76,114],[461.97,100],[462.18,119],[462.4,142],[462.61,142],[462.82,135],[463.04,97],[463.25,83],[463.46,92],[463.67,100],[463.89,88],[464.1,97],[464.31,97],[464.52,107],[464.74,119],[464.95,161],[465.16,126],[465.38,157],[465.59,171],[465.8,164],[466.01,150],[466.23,142],[466.44,140],[466.65,145],[466.86,150],[467.08,150],[467.29,152],[467.5,154],[467.71,114],[467.93,50],[468.14,104],[468.35,61],[468.56,130],[468.78,176],[468.99,138],[469.15,216],[469.36,200],[469.57,171],[469.79,164],[470.0,169],[470.21,152],[470.43,142],[470.64,145],[470.9,138]];

const seg8 = [[471.18,147],[471.34,59],[471.55,131],[471.77,142],[471.98,121],[472.14,145],[472.3,138],[472.46,147],[472.62,145],[472.83,59],[472.99,102],[473.15,61],[473.31,95],[473.47,104],[473.68,95],[473.89,104],[474.11,109],[474.32,102],[474.53,104],[474.74,102],[474.96,116],[475.12,133],[475.28,126],[475.43,66],[475.65,100],[475.86,81],[476.07,92],[476.29,109],[476.5,104],[476.71,100],[476.92,97],[477.08,133],[477.24,238],[477.4,278],[477.56,271],[477.72,307],[477.88,138],[478.04,126],[478.2,145],[478.36,150],[478.57,140],[478.73,152],[478.89,245],[479.0,310],[479.1,23],[479.26,47],[479.42,97],[479.58,83],[479.74,173],[479.9,185],[480.06,181],[480.27,183],[480.49,164],[480.7,161],[480.91,161],[481.12,152],[481.34,147],[481.55,133],[481.71,152],[481.87,126],[482.03,116],[482.19,107],[482.35,119],[482.51,173],[482.67,104],[482.83,119],[482.98,133],[483.14,102],[483.3,126],[483.46,109],[483.62,176],[483.78,164],[484.0,164],[484.21,161],[484.42,150],[484.58,142],[484.74,150],[484.9,147],[485.06,152],[485.22,142],[485.38,147],[485.59,145],[485.75,138],[485.91,135],[486.07,147],[486.23,140],[486.39,138],[486.55,147],[486.71,142],[486.87,140],[487.03,135],[487.19,138],[487.34,147],[487.5,142],[487.66,140],[487.82,145],[487.98,130],[488.14,142],[488.3,130],[488.46,140],[488.62,138],[488.78,142],[488.94,140],[489.1,145],[489.26,145],[489.42,140],[489.58,92],[489.74,121],[489.9,119],[490.06,102],[490.22,107],[490.38,102],[490.54,109],[490.69,171],[490.85,97],[491.01,176],[491.12,133],[491.28,185],[491.44,228],[491.55,304],[491.7,145],[491.81,50],[491.97,11],[492.08,47],[492.24,64],[492.4,111],[492.56,150],[492.72,152],[492.87,164],[493.09,169],[493.25,171],[493.41,166],[493.57,140],[493.73,142],[493.88,142],[494.04,140],[494.2,142],[494.36,133],[494.52,133],[494.68,100],[494.84,61],[495.0,54]];

const series = [].concat(seg1, seg2, seg3, seg4, seg5, seg6, seg7, seg8);

const axisColor = '#262626';
const mono = 'DejaVu Sans Mono';
const GL = 518, GT = 167, GW = 3103, GH = 1836;

const chart = echarts.init(document.getElementById('c'), null, {renderer: 'canvas'});
chart.setOption({
  animation: false,
  backgroundColor: '#ffffff',
  grid: {left: GL, top: GT, width: GW, height: GH, containLabel: false},
  graphic: [{
    type: 'text', x: GL + GW / 2, y: 144,
    style: {text: titleText, fill: '#000', font: 'bold 31px "DejaVu Sans Mono"', textAlign: 'center', textVerticalAlign: 'middle'}
  }],
  xAxis: {
    type: 'value', min: 0, max: 495, interval: 82.5,
    axisLine: {show: true, onZero: false, lineStyle: {color: axisColor, width: 1.5}},
    axisTick: {show: true, inside: true, length: 31, lineStyle: {color: axisColor, width: 1.5}},
    splitLine: {show: false},
    axisLabel: {
      show: true, margin: 4, color: axisColor, fontFamily: mono, fontSize: 20, lineHeight: 27,
      showMinLabel: true, showMaxLabel: true, hideOverlap: false,
      formatter: function (v) { return tickLabels[Math.round(v / 82.5)] || ''; }
    }
  },
  yAxis: {
    type: 'value', min: 0, max: 400, interval: 50,
    name: yName, nameLocation: 'middle', nameRotate: 90, nameGap: 50,
    nameTextStyle: {fontFamily: mono, fontSize: 40, color: axisColor},
    axisLine: {show: true, lineStyle: {color: axisColor, width: 1.5}},
    axisTick: {show: true, inside: true, length: 31, lineStyle: {color: axisColor, width: 1.5}},
    splitLine: {show: false},
    axisLabel: {show: true, margin: 6, color: axisColor, fontFamily: mono, fontSize: 20, showMinLabel: true, showMaxLabel: true}
  },
  series: [{
    type: 'line', data: series, showSymbol: false, symbol: 'none',
    lineStyle: {color: '#0072BD', width: 2}, clip: true, z: 1
  }]
});
</script>
</body>
</html>
